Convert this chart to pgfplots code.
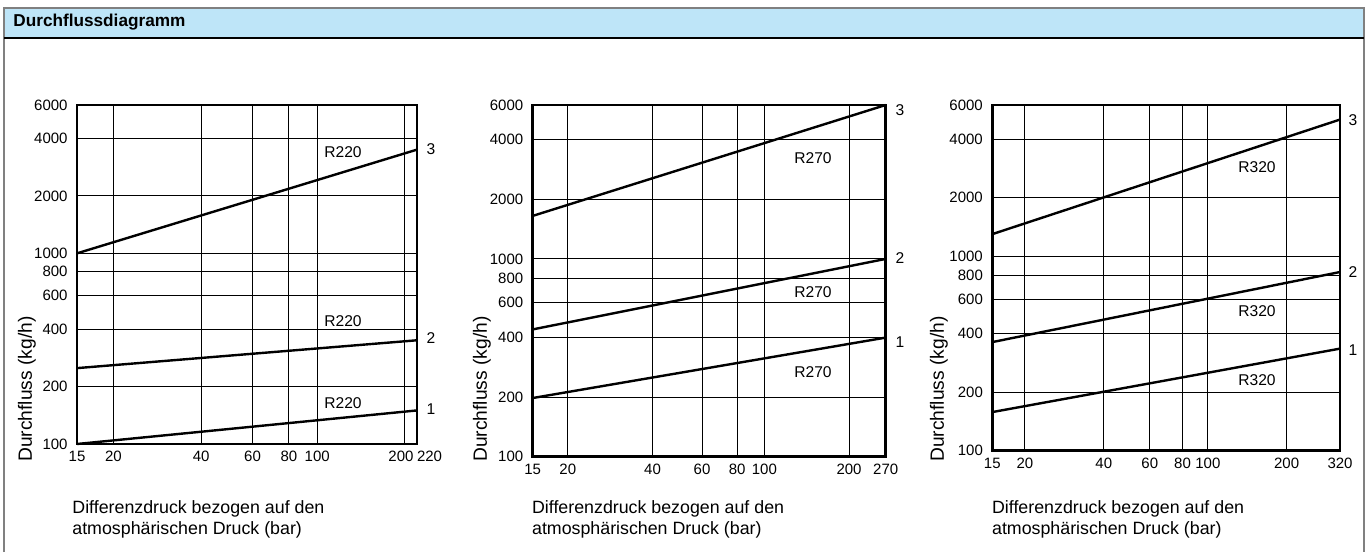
\documentclass[border=0pt]{standalone}
\usepackage{fontspec}
\setmainfont{Liberation Sans}
\usepackage{pgfplots}
\pgfplotsset{compat=1.18}
\definecolor{hdr}{RGB}{190,229,248}
\definecolor{brd}{RGB}{128,128,128}
\pgfplotsset{
  every axis/.append style={
    scale only axis,
    ymin=100, ymax=6000, xmin=15,
    ytick={100,200,400,600,800,1000,2000,4000,6000},
    yticklabels={100,200,400,600,800,1000,2000,4000,6000},
    minor xtick={}, minor ytick={},
    grid=major, major grid style={black, line width=0.5pt},
    axis line style={line width=1.3pt},
    major tick length=0pt, minor tick length=0pt,
    tick label style={font=\fontsize{7.5}{8.5}\selectfont},
    yticklabel style={xshift=-1.2pt},
    clip=false, anchor=south west,
  },
  fl/.style={black, line width=1.2pt, mark=none},
}
\begin{document}
\begin{tikzpicture}
\useasboundingbox (0,0) rectangle (685.5pt,276pt);
\begin{scope}[x=0.5pt,y=-0.5pt,yshift=276pt]
  \fill[hdr] (4,8) rectangle (1364,38);
  \draw[brd, line width=1pt] (4,552) -- (4,8) -- (1364,8) -- (1364,552);
  \draw[black, line width=0.6pt] (4,38) -- (1364,38);
  \node[anchor=west, inner sep=0pt, font=\fontsize{8.6}{10}\selectfont\bfseries] at (13,22) {Durchflussdiagramm};
\end{scope}

% Plot 1
\begin{loglogaxis}[at={(38.5pt,54pt)}, width=170pt, height=169.5pt, xmax=220,
  xtick={15,20,40,60,80,100,200,220},
  xticklabels={15,20,40,60,80,100,200\hspace*{4pt},\makebox[0pt][l]{220}}]
  \addplot[fl] coordinates {(15,1000) (220,3500)};
  \addplot[fl] coordinates {(15,250) (220,350)};
  \addplot[fl] coordinates {(15,100) (220,150)};
\end{loglogaxis}

% Plot 2
\begin{loglogaxis}[at={(266.35pt,47.65pt)}, width=176.5pt, height=175.85pt, xmax=270,
  xtick={15,20,40,60,80,100,200,270},
  xticklabels={15,20,40,60,80,100,200,270}]
  \addplot[fl] coordinates {(15,1650) (270,6000)};
  \addplot[fl] coordinates {(15,440) (270,1000)};
  \addplot[fl] coordinates {(15,198) (270,400)};
\end{loglogaxis}

% Plot 3
\begin{loglogaxis}[at={(496.15pt,50.65pt)}, width=173.85pt, height=172.85pt, xmax=320,
  xtick={15,20,40,60,80,100,200,320},
  xticklabels={15,20,40,60,80,100,200,320}]
  \addplot[fl] coordinates {(15,1300) (320,5050)};
  \addplot[fl] coordinates {(15,362) (320,830)};
  \addplot[fl] coordinates {(15,158) (320,335)};
\end{loglogaxis}

\begin{scope}[x=0.5pt,y=-0.5pt,yshift=276pt]
  \tikzset{lab/.style={font=\fontsize{7.8}{9}\selectfont},
           yl/.style={rotate=90, anchor=west, inner sep=0pt, font=\fontsize{9.6}{11}\selectfont},
           xl/.style={anchor=base west, inner sep=0pt, font=\fontsize{8.9}{11}\selectfont}}
  % plot 1 annotations
  \node[lab] at (343,152) {R220};
  \node[lab] at (343,321) {R220};
  \node[lab] at (343,403) {R220};
  \node[lab] at (431,149) {3};
  \node[lab] at (431,338) {2};
  \node[lab] at (431,409) {1};
  % plot 2
  \node[lab] at (813,158) {R270};
  \node[lab] at (813,292) {R270};
  \node[lab] at (813,372) {R270};
  \node[lab] at (900,110) {3};
  \node[lab] at (900,258) {2};
  \node[lab] at (900,342) {1};
  % plot 3
  \node[lab] at (1257,167) {R320};
  \node[lab] at (1257,311) {R320};
  \node[lab] at (1257,380) {R320};
  \node[lab] at (1353,120) {3};
  \node[lab] at (1353,272) {2};
  \node[lab] at (1353,350) {1};
  % axis labels
  \node[yl] at (27,462) {Durchfluss (kg/h)};
  \node[yl] at (482,462) {Durchfluss (kg/h)};
  \node[yl] at (939,462) {Durchfluss (kg/h)};
  \node[xl] at (72,513) {Differenzdruck bezogen auf den};
  \node[xl] at (72,534) {atmosphärischen Druck (bar)};
  \node[xl] at (531.7,513) {Differenzdruck bezogen auf den};
  \node[xl] at (531.7,534) {atmosphärischen Druck (bar)};
  \node[xl] at (991.7,513) {Differenzdruck bezogen auf den};
  \node[xl] at (991.7,534) {atmosphärischen Druck (bar)};
\end{scope}
\end{tikzpicture}
\end{document}
